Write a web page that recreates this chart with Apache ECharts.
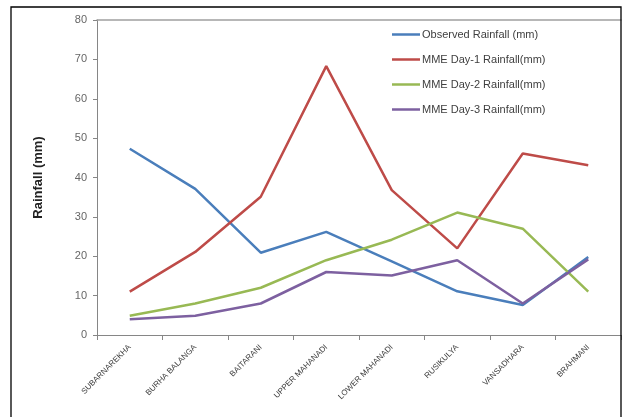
<!DOCTYPE html>
<html>
<head>
<meta charset="utf-8">
<script src="https://cdn.jsdelivr.net/npm/echarts@6/dist/echarts.min.js"></script>
<style>
html,body{margin:0;padding:0;background:#fff;}
#main{width:623px;height:417px;}
</style>
</head>
<body>
<div id="main"></div>
<script>
var categories = ['SUBARNAREKHA','BURHA BALANGA','BAITARANI','UPPER MAHANADI','LOWER MAHANADI','RUSIKULYA','VANSADHARA','BRAHMANI'];
var observed = [47.3, 37.1, 20.9, 26.2, 18.7, 11.1, 7.6, 19.8];
var mmeDay1 = [11.0, 21.1, 35.1, 68.3, 36.8, 22.0, 46.1, 43.1];
var mmeDay2 = [4.9, 8.0, 12.0, 19.0, 24.2, 31.1, 27.0, 11.0];
var mmeDay3 = [4.0, 4.9, 8.0, 16.0, 15.1, 19.0, 8.0, 19.2];
var seriesNames = ['Observed Rainfall (mm)','MME Day-1 Rainfall(mm)','MME Day-2 Rainfall(mm)','MME Day-3 Rainfall(mm)'];
var yTicks = [0, 10, 20, 30, 40, 50, 60, 70, 80];

var colors = ['#4A7EBB', '#BE4B48', '#98B954', '#7D60A0'];
var chart = echarts.init(document.getElementById('main'));
function mk(name, data, i) {
  return {
    name: name, type: 'line', data: data, symbol: 'none',
    lineStyle: {width: 2.5, color: colors[i]}, itemStyle: {color: colors[i]},
    z: 2 + i
  };
}
chart.setOption({
  animation: false,
  backgroundColor: '#fff',
  graphic: [{
    type: 'rect', shape: {x: 11, y: 7, width: 610, height: 430},
    style: {fill: 'none', stroke: '#000', lineWidth: 1.3}, z: 100, silent: true
  }],
  legend: {
    orient: 'vertical', left: 387, top: 24,
    icon: 'rect', itemWidth: 28, itemHeight: 2.5, itemGap: 14,
    textStyle: {fontFamily: 'Liberation Sans', fontSize: 11, color: '#404040', padding: [0,0,0,-3]},
    data: seriesNames
  },
  grid: {left: 97, right: 2, top: 20, bottom: 82},
  xAxis: [{
    type: 'category', data: categories, boundaryGap: true,
    axisLine: {lineStyle: {color: '#868686', width: 1}},
    axisTick: {show: true, length: 5, lineStyle: {color: '#868686'}},
    axisLabel: {interval: 0, rotate: 45, fontSize: 8, fontFamily: 'Liberation Sans', color: '#404040', margin: 11}
  }, {
    type: 'category', data: categories, position: 'top',
    axisLine: {show: true, lineStyle: {color: '#A0A0A0', width: 1.5}},
    axisTick: {show: false}, axisLabel: {show: false}
  }],
  yAxis: {
    type: 'value', min: 0, max: 80, interval: 10,
    name: 'Rainfall (mm)', nameLocation: 'middle', nameGap: 52,
    nameTextStyle: {fontFamily: 'Liberation Sans', fontSize: 13, fontWeight: 'bold', color: '#222'},
    axisLine: {show: true, lineStyle: {color: '#868686', width: 1}},
    axisTick: {show: true, length: 4, lineStyle: {color: '#868686'}},
    axisLabel: {fontSize: 11, fontFamily: 'Liberation Sans', color: '#666', margin: 10,
      formatter: function (v) { return yTicks.indexOf(v) >= 0 ? String(v) : ''; }},
    splitLine: {show: false}
  },
  series: [
    mk(seriesNames[0], observed, 0),
    mk(seriesNames[1], mmeDay1, 1),
    mk(seriesNames[2], mmeDay2, 2),
    mk(seriesNames[3], mmeDay3, 3)
  ]
});
</script>
</body>
</html>
